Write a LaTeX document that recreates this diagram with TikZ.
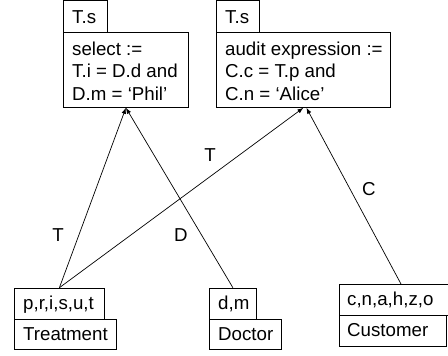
\documentclass[tikz,border=0pt]{standalone}
\usepackage{fontspec}
\setmainfont{Liberation Sans}
\usetikzlibrary{calc,arrows.meta}
\begin{document}
\begin{tikzpicture}[x=1pt,y=-1pt,
  box/.style={draw=black, line width=0.8pt, anchor=north west, inner sep=0pt},
  txt/.style={anchor=base west, inner sep=0pt, font=\fontsize{18.7}{22}\selectfont},
  lbl/.style={inner sep=0pt, font=\fontsize{18.7}{22}\selectfont},
  link/.style={draw=black, line width=0.7pt, -{Latex[length=6pt,width=4.5pt]}}]
\useasboundingbox (0,0) rectangle (448,356);

% select relation (top left)
\node[box, minimum width=44, minimum height=31.5] (tsA) at (63,0.5) {};
\node[box, minimum width=125, minimum height=75] (selA) at (63,32) {};
\node[txt] (tsAt) at ($(tsA.north west)+(9,23)$) {T.s};
\node[txt] (selA1) at ($(selA.north west)+(9,23)$) {select :=};
\node[txt] (selA2) at ($(selA.north west)+(9,45.5)$) {T.i = D.d and};
\node[txt] (selA3) at ($(selA.north west)+(9,68)$) {D.m = ‘Phil’};

% audit expression (top right)
\node[box, minimum width=43, minimum height=31.5] (tsB) at (216,0.5) {};
\node[box, minimum width=174, minimum height=75] (audB) at (216,32) {};
\node[txt] (tsBt) at ($(tsB.north west)+(9,23)$) {T.s};
\node[txt] (audB1) at ($(audB.north west)+(9,23)$) {audit expression :=};
\node[txt] (audB2) at ($(audB.north west)+(9,45.5)$) {C.c = T.p and};
\node[txt] (audB3) at ($(audB.north west)+(9,68)$) {C.n = ‘Alice’};

% base tables
\node[box, minimum width=90, minimum height=31] (trtTab) at (14,287.7) {};
\node[box, minimum width=102, minimum height=30.5] (trtBox) at (14,318.7) {};
\node[txt] (trtTabt) at ($(trtTab.north west)+(9,21.5)$) {p,r,i,s,u,t};
\node[txt] (trtBoxt) at ($(trtBox.north west)+(9,21.5)$) {Treatment};

\node[box, minimum width=47, minimum height=31] (docTab) at (209,287.7) {};
\node[box, minimum width=72, minimum height=30.5] (docBox) at (209,318.7) {};
\node[txt] (docTabt) at ($(docTab.north west)+(9,21.5)$) {d,m};
\node[txt] (docBoxt) at ($(docBox.north west)+(9,21.5)$) {Doctor};

\node[box, minimum width=111, minimum height=31] (cusTab) at (339,284) {};
\node[box, minimum width=107, minimum height=30.5] (cusBox) at (339,315) {};
\node[txt] (cusTabt) at ($(cusTab.north west)+(8,21.5)$) {c,n,a,h,z,o};
\node[txt] (cusBoxt) at ($(cusBox.north west)+(8,21.5)$) {Customer};

% attachment points
\coordinate (cusTop) at ($(cusTab.north west)+(62,0)$);
\coordinate (audR) at ($(audB.south)+(3,0)$);

% references
\draw[link] (trtTab.north) -- (selA.south);
\draw[link] (docTab.north) -- (selA.south);
\draw[link] (trtTab.north) -- (audB.south);
\draw[link] (cusTop) -- (audR);

% reference labels
\node[lbl] (lT1) at (58,235) {T};
\node[lbl] (lD) at (181,235) {D};
\node[lbl] (lT2) at (210,155) {T};
\node[lbl] (lC) at (369,189) {C};
\end{tikzpicture}
\end{document}
